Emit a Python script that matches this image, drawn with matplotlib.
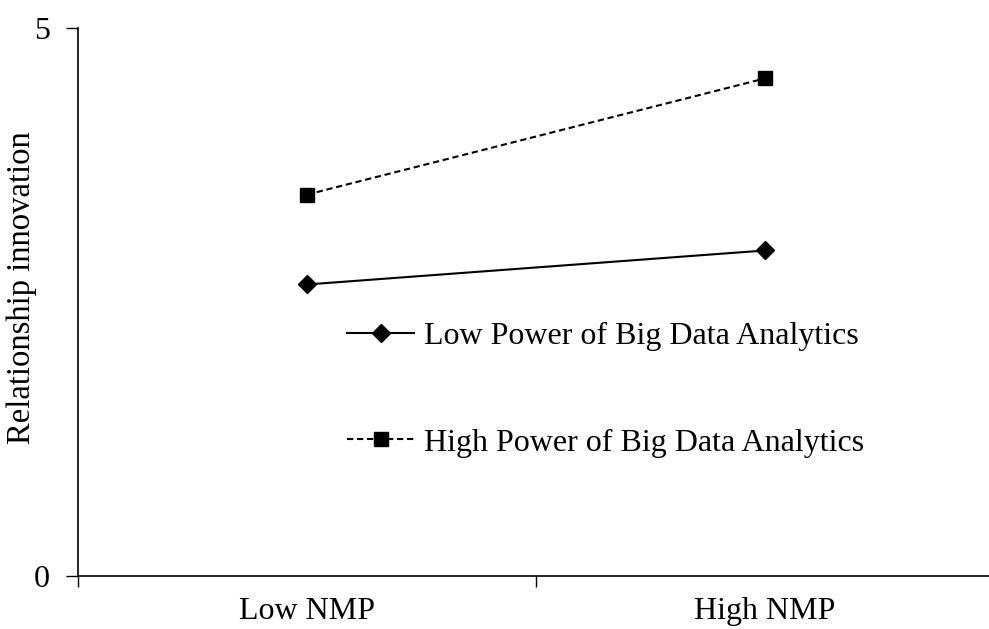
import matplotlib.pyplot as plt

# data
groups = ["Low NMP", "High NMP"]
low_power = [2.66, 2.97]
high_power = [3.48, 4.54]
series_labels = ["Low Power of Big Data Analytics", "High Power of Big Data Analytics"]

plt.rcParams['font.family'] = ['Liberation Serif', 'DejaVu Serif']

fig = plt.figure(figsize=(9.89, 6.29), dpi=100)
ax = fig.add_axes([78 / 989, 53 / 629, 916 / 989, 548 / 629])

xpos = [0.5, 1.5]
ax.plot(xpos, low_power, color="black", linestyle="-", linewidth=1.5,
        marker="D", markersize=9, label=series_labels[0])
ax.plot(xpos, high_power, color="black", linestyle=(0, (3, 1.8)), linewidth=1.5,
        marker="s", markersize=9.5, label=series_labels[1])

ax.set_xlim(0, 2)
ax.set_ylim(0, 5)

for side in ["top", "right"]:
    ax.spines[side].set_visible(False)
ax.spines["left"].set_linewidth(1.2)
ax.spines["bottom"].set_linewidth(1.2)

ax.set_yticks([0, 5])
ax.tick_params(axis="y", direction="out", length=9, width=1.0, labelsize=23, pad=11)

# category labels on minor ticks, tick marks on major ticks
ax.set_xticks([0, 1, 2])
ax.set_xticklabels([])
ax.tick_params(axis="x", which="major", direction="out", length=8, width=1.0)
ax.set_xticks(xpos, minor=True)
ax.set_xticklabels(groups, minor=True)
ax.tick_params(axis="x", which="minor", length=0, labelsize=23, pad=15)

ax.set_ylabel("Relationship innovation", fontsize=23.5)
ax.yaxis.set_label_coords(-41 / 916, 0.526)

ax.legend(loc="center left", bbox_to_anchor=(347 / 989, 1 - 389.5 / 629),
          bbox_transform=fig.transFigure, frameon=False,
          fontsize=23, handlelength=2.1, handletextpad=0.3, labelspacing=2.43,
          borderaxespad=0, borderpad=0)

fig.savefig("out.png", dpi=100)
